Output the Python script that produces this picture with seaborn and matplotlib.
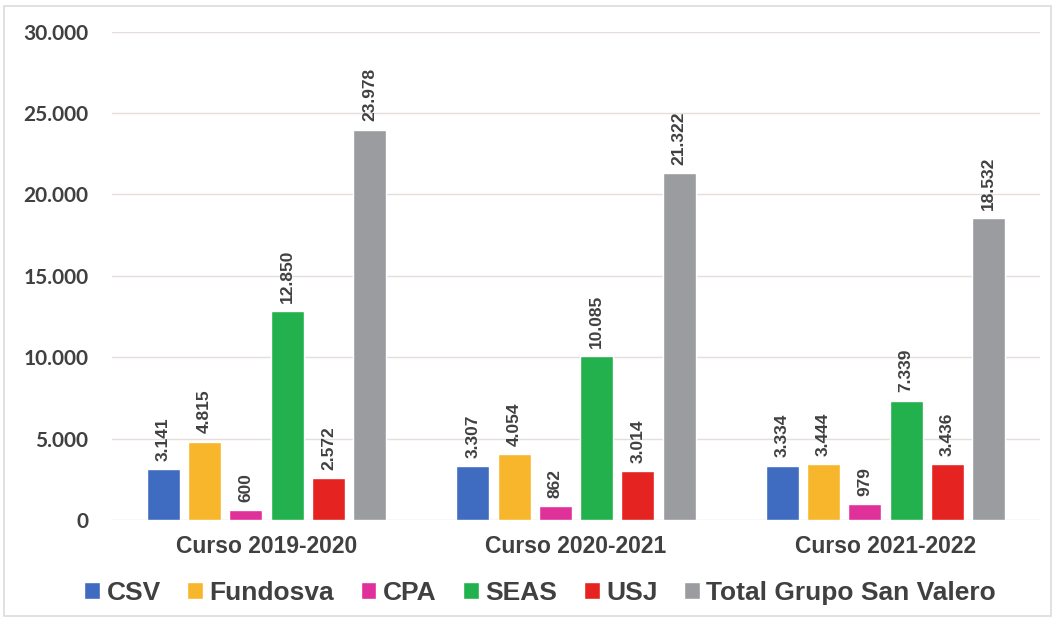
import matplotlib
matplotlib.use("Agg")
import matplotlib.pyplot as plt
import seaborn as sns
import pandas as pd
from matplotlib.ticker import FuncFormatter
from matplotlib.patches import Rectangle

categories = ["Curso 2019-2020", "Curso 2020-2021", "Curso 2021-2022"]
series = ["CSV", "Fundosva", "CPA", "SEAS", "USJ", "Total Grupo San Valero"]
csv = [3141, 3307, 3334]
fundosva = [4815, 4054, 3444]
cpa = [600, 862, 979]
seas = [12850, 10085, 7339]
usj = [2572, 3014, 3436]
total = [23978, 21322, 18532]
colors = ["#3f6cc0", "#f7b62b", "#e0309a", "#22b14c", "#e52421", "#9b9ca0"]

values = [csv, fundosva, cpa, seas, usj, total]
rows = []
for s, vals in zip(series, values):
    for c, v in zip(categories, vals):
        rows.append({"curso": c, "serie": s, "valor": v})
df = pd.DataFrame(rows)

sns.set_theme(style="white")
plt.rcParams['font.family'] = ['Liberation Sans', 'DejaVu Sans']
txt = "#404040"

fig = plt.figure(figsize=(10.55, 6.22), dpi=100)
ax = fig.add_axes([0.106, 0.164, 0.88, 0.785])
sns.barplot(data=df, x="curso", y="valor", hue="serie", order=categories,
            hue_order=series, palette=colors, width=0.8, gap=0.2,
            saturation=1, ax=ax, legend=True, errorbar=None)

ax.set_ylim(0, 30000)
ax.set_yticks(range(0, 30001, 5000))
ax.yaxis.set_major_formatter(FuncFormatter(lambda v, p: f"{int(v):,}".replace(",", ".")))
ax.grid(axis="y", color="#e6dedb", linewidth=1)
ax.set_axisbelow(True)
for sp in ax.spines.values():
    sp.set_visible(False)
ax.set_xlabel("")
ax.set_ylabel("")
ax.tick_params(axis="y", labelsize=15, colors=txt, pad=17, length=0)
ax.tick_params(axis="x", labelsize=16.5, colors=txt, pad=11, length=0)
for lab in ax.get_yticklabels():
    lab.set_fontweight("bold")
    lab.set_family(["Lato", "DejaVu Sans"])
for lab in ax.get_xticklabels():
    lab.set_fontweight("bold")

for cont in ax.containers:
    labels = [f"{int(v):,}".replace(",", ".") for v in cont.datavalues]
    ax.bar_label(cont, labels=labels, rotation=90, padding=6, fontsize=12.5,
                 fontweight="bold", color=txt)

h, l = ax.get_legend_handles_labels()
ax.get_legend().remove()
leg = fig.legend(h, l, loc="center", bbox_to_anchor=(0.512, 0.047), ncol=6,
                 frameon=False, fontsize=19, handlelength=0.6, handleheight=0.6,
                 handletextpad=0.25, columnspacing=1.0)
for t in leg.get_texts():
    t.set_fontweight("bold")
    t.set_color(txt)

fig.patches.append(Rectangle((0.004, 0.01), 0.992, 0.98, transform=fig.transFigure,
                             fill=False, edgecolor="#dcdcdc", linewidth=1.2))

fig.savefig("out.png", dpi=100)
